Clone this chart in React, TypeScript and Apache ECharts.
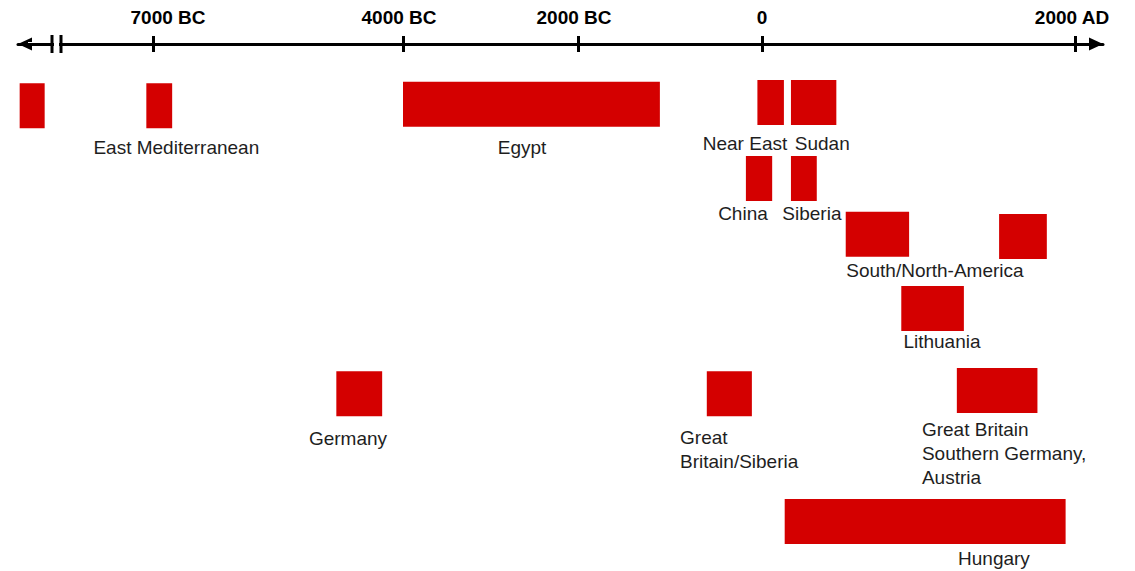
import React, { useEffect, useRef } from "react";
import * as echarts from "echarts";

// Time line ticks (the drawn time line is not linear: each segment has its own scale)
const tickYears = [-7000, -4000, -2000, 0, 2000];
const tickLabels = ["7000 BC", "4000 BC", "2000 BC", "0", "2000 AD"];
const tickPositions = [0, 250, 425, 609, 922];

// Periods (years; negative = BC) and their row (top, in row-height units below the time line)
const periodNames = [
  "(before break)",
  "East Mediterranean",
  "Egypt",
  "Near East",
  "Sudan",
  "China",
  "Siberia",
  "South America",
  "North America",
  "Lithuania",
  "Germany",
  "Great Britain/Siberia",
  "Great Britain, Southern Germany, Austria",
  "Hungary",
];
const periodStart = [-8600, -7080, -4000, -50, 185, -175, 185, 535, 1515, 890, -4800, -600, 1245, 145];
const periodEnd = [-8300, -6770, -1110, 140, 475, 65, 350, 940, 1820, 1290, -4250, -110, 1760, 1940];
const periodRow = [0.87, 0.87, 0.84, 0.8, 0.8, 2.49, 2.49, 3.73, 3.78, 5.38, 7.27, 7.27, 7.2, 10.11];

// Labels
const labelTexts = [
  "East Mediterranean",
  "Egypt",
  "Near East",
  "Sudan",
  "China",
  "Siberia",
  "South/North-America",
  "Lithuania",
  "Germany",
  "Great\nBritain/Siberia",
  "Great Britain\nSouthern Germany,\nAustria",
  "Hungary",
];
const labelYears = [-6720, -2640, -185, 385, -207, 319, 1105, 1150, -4660, -891, 1022, 1482];
const labelRows = [2.31, 2.31, 2.22, 2.22, 3.76, 3.76, 5.04, 6.62, 8.76, 9.01, 9.09, 11.44];
const labelAligns = ["center", "center", "center", "center", "center", "center", "center", "center", "center", "left", "left", "center"];

const tickLabelShift = [15, -4, -4, 0, -3];

function toPos(year: number): number {
  const n = tickYears.length;
  let i = 0;
  if (year <= tickYears[0]) i = 0;
  else if (year >= tickYears[n - 1]) i = n - 2;
  else {
    while (year > tickYears[i + 1]) i++;
  }
  const y0 = tickYears[i];
  const y1 = tickYears[i + 1];
  const p0 = tickPositions[i];
  const p1 = tickPositions[i + 1];
  return p0 + ((year - y0) * (p1 - p0)) / (y1 - y0);
}

const RED = "#d40000";
const FONT = "'Liberation Sans', Arial, Helvetica, sans-serif";

export default function App() {
  const ref = useRef<HTMLDivElement>(null);

  useEffect(() => {
    if (!ref.current) return;
    const chart = echarts.init(ref.current, null, { renderer: "svg" });

    const rich: Record<string, any> = {};
    tickLabels.forEach((_, i) => {
      const s = tickLabelShift[i];
      rich["t" + i] = {
        fontFamily: FONT,
        fontSize: 19,
        fontWeight: "bold",
        color: "#000",
        padding: s >= 0 ? [0, 0, 0, 2 * s] : [0, -2 * s, 0, 0],
      };
    });

    const xCommon = {
      type: "value" as const,
      min: -135,
      max: 950,
      position: "top" as const,
      splitLine: { show: false },
    };

    const option: any = {
      animation: false,
      backgroundColor: "#fff",
      grid: { left: 18, right: 32, top: 44, bottom: 0.5 },
      xAxis: [
        {
          ...xCommon,
          axisLine: {
            show: true,
            onZero: false,
            lineStyle: { color: "#000", width: 3 },
            symbol: ["triangle", "triangle"],
            symbolSize: [13, 14],
            symbolOffset: [7, -7],
          },
          axisTick: {
            show: true,
            inside: false,
            length: 8,
            customValues: tickPositions,
            lineStyle: { color: "#000", width: 3 },
          },
          axisLabel: {
            show: true,
            margin: 17,
            customValues: tickPositions,
            formatter: (v: number) => {
              const i = tickPositions.indexOf(v);
              return i >= 0 ? `{t${i}|${tickLabels[i]}}` : "";
            },
            rich,
          },
        },
        {
          ...xCommon,
          axisLine: { show: false, onZero: false },
          axisTick: {
            show: true,
            inside: true,
            length: 8,
            customValues: tickPositions,
            lineStyle: { color: "#000", width: 3 },
          },
          axisLabel: { show: false },
        },
      ],
      yAxis: { type: "value", min: 0, max: 11.7, inverse: true, show: false },
      graphic: [
        { type: "rect", z: 100, shape: { x: 54, y: 41, width: 5, height: 6 }, style: { fill: "#fff" } },
        { type: "rect", z: 100, shape: { x: 28, y: 42, width: 22, height: 1 }, style: { fill: "#fff" } },
        { type: "line", z: 101, shape: { x1: 52, y1: 35, x2: 52, y2: 53 }, style: { stroke: "#000", lineWidth: 3 } },
        { type: "line", z: 101, shape: { x1: 61, y1: 35, x2: 61, y2: 53 }, style: { stroke: "#000", lineWidth: 3 } },
      ],
      series: [
        {
          type: "custom",
          name: "periods",
          xAxisIndex: 0,
          data: periodNames.map((name, i) => ({
            name,
            value: [toPos(periodStart[i]), toPos(periodEnd[i]), periodRow[i]],
          })),
          renderItem: (_params: any, api: any) => {
            const a = api.coord([api.value(0), api.value(2)]);
            const b = api.coord([api.value(1), api.value(2) + 1]);
            return {
              type: "rect",
              shape: { x: a[0], y: a[1], width: b[0] - a[0], height: b[1] - a[1] },
              style: { fill: RED },
            };
          },
        },
        {
          type: "custom",
          name: "labels",
          xAxisIndex: 0,
          data: labelTexts.map((t, i) => ({ name: t, value: [toPos(labelYears[i]), labelRows[i]] })),
          renderItem: (params: any, api: any) => {
            const p = api.coord([api.value(0), api.value(1)]);
            const i = params.dataIndex;
            return {
              type: "text",
              x: p[0],
              y: p[1],
              style: {
                text: labelTexts[i],
                fontFamily: FONT,
                fontSize: 19,
                fill: "#1e1e1e",
                align: labelAligns[i],
                verticalAlign: "middle",
                lineHeight: 24,
              },
            };
          },
        },
      ],
    };

    chart.setOption(option);
    return () => chart.dispose();
  }, []);

  return (
    <div
      ref={ref}
      style={{ position: "fixed", left: 0, top: 0, width: 1135, height: 571, background: "#fff" }}
    />
  );
}
